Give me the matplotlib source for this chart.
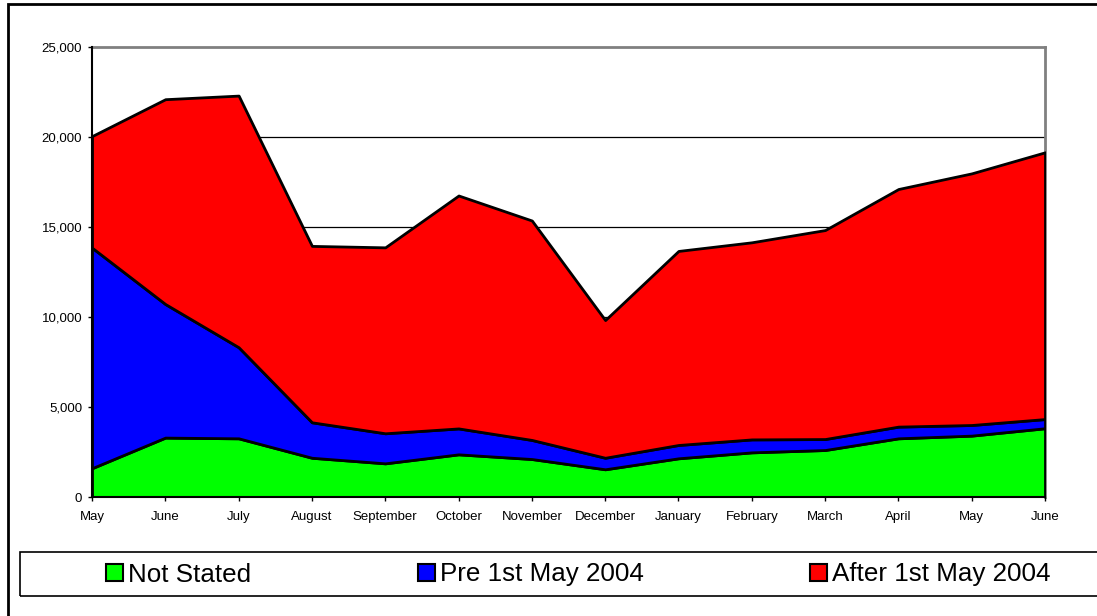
import matplotlib
matplotlib.use('Agg')
import matplotlib.pyplot as plt
from matplotlib.patches import Rectangle, Patch
from matplotlib.ticker import FuncFormatter

plt.rcParams['font.family'] = ['Liberation Sans', 'DejaVu Sans']

# dados
months = ['May', 'June', 'July', 'August', 'September', 'October', 'November',
          'December', 'January', 'February', 'March', 'April', 'May', 'June']
not_stated = [1600, 3300, 3260, 2180, 1870, 2370, 2110, 1540, 2150, 2480, 2610, 3260, 3410, 3820]
pre_2004 = [12250, 7420, 5060, 1970, 1670, 1440, 1060, 640, 740, 720, 610, 650, 590, 510]
after_2004 = [6200, 11380, 13980, 9800, 10330, 12940, 12190, 7650, 10780, 10950, 11610, 13200, 13980, 14820]
labels = ['Not Stated', 'Pre 1st May 2004', 'After 1st May 2004']
colors = ['#00ff00', '#0000ff', '#ff0000']

W, H = 1097, 616
fig = plt.figure(figsize=(W / 100, H / 100), dpi=100)
ax = fig.add_axes([92 / W, 1 - 497 / H, 953 / W, 450 / H])

x = list(range(len(months)))
ax.stackplot(x, not_stated, pre_2004, after_2004, colors=colors,
             edgecolor='black', linewidth=2, zorder=3)

ax.set_xlim(0, len(months) - 1)
ax.set_ylim(0, 25000)
ax.set_xticks(x)
ax.set_xticklabels(months)
ax.set_yticks(range(0, 25001, 5000))
ax.yaxis.set_major_formatter(FuncFormatter(lambda v, p: '{:,.0f}'.format(v)))
ax.tick_params(axis='both', labelsize=9.5, length=3, width=1, direction='out')
ax.tick_params(axis='x', pad=7)
ax.tick_params(axis='y', pad=4)

# linhas de grade
for v in range(5000, 25000, 5000):
    ax.axhline(v, color='black', linewidth=0.9, zorder=1)

for s in ['left', 'bottom']:
    ax.spines[s].set_color('black')
    ax.spines[s].set_linewidth(1.5)
    ax.spines[s].set_zorder(5)
for s in ['top', 'right']:
    ax.spines[s].set_color('#808080')
    ax.spines[s].set_linewidth(2)
    ax.spines[s].set_zorder(1)

# moldura externa
fig.patches.append(Rectangle((8 / W, -0.1), 1.2, 1.1 - 4 / H, transform=fig.transFigure,
                             fill=False, edgecolor='black', linewidth=2))
# caixa da legenda
fig.patches.append(Rectangle((20 / W, 1 - 596 / H), 1.2, 44 / H, transform=fig.transFigure,
                             fill=False, edgecolor='black', linewidth=1.2))

handles = [Patch(facecolor=c, edgecolor='black', linewidth=1.5) for c in colors]
fig.legend(handles, labels, loc='center', bbox_to_anchor=(578.5 / W, 1 - 574.5 / H),
           ncol=3, frameon=False, fontsize=18.7, handlelength=0.65, handleheight=0.62,
           handletextpad=0.2, columnspacing=6.4, borderpad=0)

fig.savefig('out.png', dpi=100)
